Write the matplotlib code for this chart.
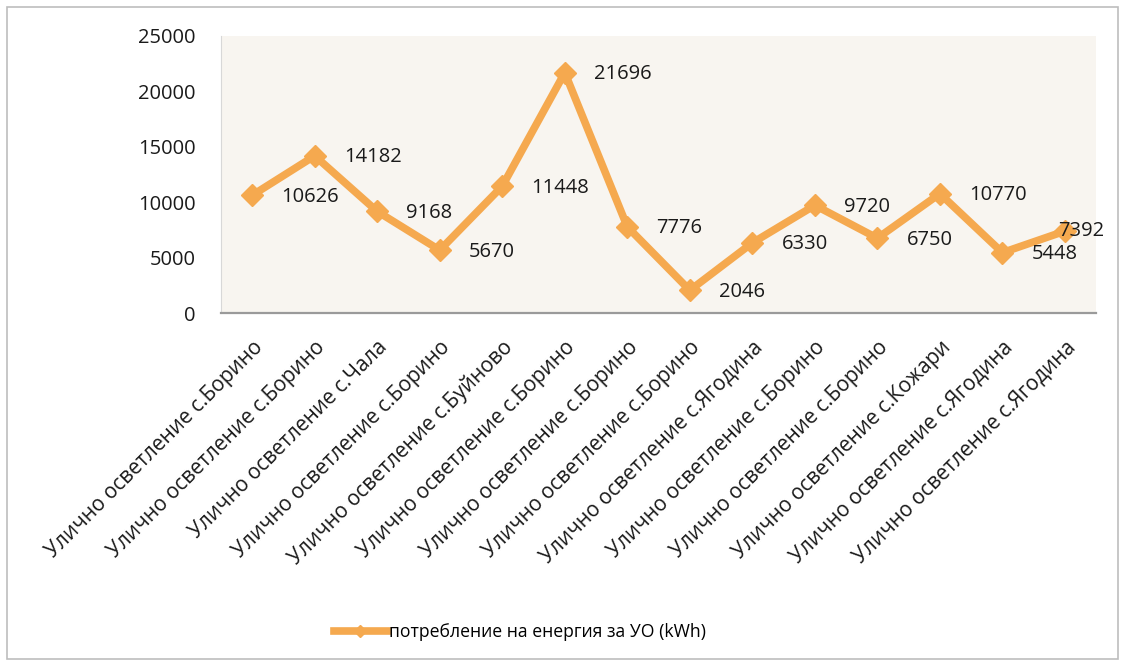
# -*- coding: utf-8 -*-
# energy consumption for street lighting, line chart with labels

import numpy as np
import matplotlib.pyplot as plt
from matplotlib.patches import Rectangle
from matplotlib.lines import Line2D

plt.rcParams['font.family'] = ['Open Sans', 'DejaVu Sans']

#%%
# data
villages = ['с.Борино', 'с.Борино', 'с.Чала', 'с.Борино', 'с.Буйново',
            'с.Борино', 'с.Борино', 'с.Борино', 'с.Ягодина', 'с.Борино',
            'с.Борино', 'с.Кожари', 'с.Ягодина', 'с.Ягодина']
categories = ['Улично осветление ' + v for v in villages]
consumption = [10626, 14182, 9168, 5670, 11448, 21696, 7776,
               2046, 6330, 9720, 6750, 10770, 5448, 7392]
series_name = 'потребление на енергия за УО (kWh)'

ORANGE = '#f5a94f'
TEXT = '#1a1a1a'

#%%
fig = plt.figure(figsize=(11.25, 6.64), dpi=100)
fig.patch.set_facecolor('white')
fig.add_artist(Rectangle((0.006, 0.008), 0.988, 0.982, transform=fig.transFigure,
                         fill=False, edgecolor='#bdbdbd', linewidth=1.2))

ax = fig.add_axes([0.1964, 0.5286, 0.778, 0.4172])
ax.set_facecolor('#f8f5f0')

x = np.arange(len(consumption))
ax.plot(x, consumption, color=ORANGE, linewidth=5.5, marker='D', markersize=11,
        markeredgecolor=ORANGE)

# data labels to the right of the points (last one is pushed back inside)
for xi, yi in zip(x, consumption):
    dx, dy = (21, -1)
    if xi == len(consumption) - 1:
        dx, dy = (-5, 0)
    ax.annotate(str(yi), (xi, yi), xytext=(dx, dy), textcoords='offset points',
                ha='left', va='center', fontsize=14.5, color=TEXT)

ax.set_xlim(-0.5, len(consumption) - 0.5)
ax.set_ylim(0, 25000)
ax.set_yticks(np.arange(0, 25001, 5000))
ax.tick_params(axis='y', length=0, labelsize=14.5, pad=18, colors=TEXT)
ax.tick_params(axis='x', length=0, labelsize=15, pad=17, colors=TEXT)
ax.set_xticks(x)
ax.set_xticklabels(categories, rotation=45, ha='right', rotation_mode='anchor')

for s in ['top', 'right']:
    ax.spines[s].set_visible(False)
ax.spines['left'].set_color('#d8d8d8')
ax.spines['bottom'].set_color('#9a9a9a')
ax.spines['bottom'].set_linewidth(1.6)

handle = Line2D([], [], color=ORANGE, linewidth=5.5, marker='D', markersize=6)
ax.legend([handle], [series_name], loc='center', bbox_to_anchor=(0.462, 0.048),
          bbox_transform=fig.transFigure, frameon=False, fontsize=12.7,
          handlelength=3.0, handletextpad=0.1)

plt.savefig('out.png', dpi=100)
